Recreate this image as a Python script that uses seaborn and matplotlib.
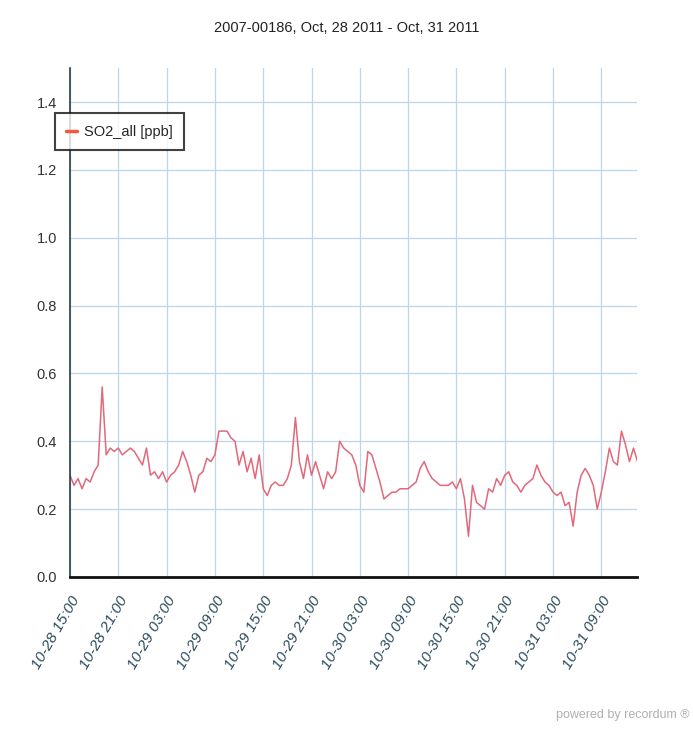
import numpy as np
import pandas as pd
import matplotlib
matplotlib.use("Agg")
import matplotlib.pyplot as plt
import matplotlib.dates as mdates
from matplotlib.ticker import MultipleLocator, FormatStrFormatter
import seaborn as sns

# half-hourly SO2 readings
start_time = "2011-10-28 15:00"
so2_values = [
    0.30, 0.27, 0.29, 0.26, 0.29, 0.28, 0.31, 0.33, 0.56, 0.36,
    0.38, 0.37, 0.38, 0.36, 0.37, 0.38, 0.37, 0.35, 0.33, 0.38,
    0.30, 0.31, 0.29, 0.31, 0.28, 0.30, 0.31, 0.33, 0.37, 0.34,
    0.30, 0.25, 0.30, 0.31, 0.35, 0.34, 0.36, 0.43, 0.43, 0.43,
    0.41, 0.40, 0.33, 0.37, 0.31, 0.35, 0.29, 0.36, 0.26, 0.24,
    0.27, 0.28, 0.27, 0.27, 0.29, 0.33, 0.47, 0.34, 0.29, 0.36,
    0.30, 0.34, 0.30, 0.26, 0.31, 0.29, 0.31, 0.40, 0.38, 0.37,
    0.36, 0.33, 0.27, 0.25, 0.37, 0.36, 0.32, 0.28, 0.23, 0.24,
    0.25, 0.25, 0.26, 0.26, 0.26, 0.27, 0.28, 0.32, 0.34, 0.31,
    0.29, 0.28, 0.27, 0.27, 0.27, 0.28, 0.26, 0.29, 0.23, 0.12,
    0.27, 0.22, 0.21, 0.20, 0.26, 0.25, 0.29, 0.27, 0.30, 0.31,
    0.28, 0.27, 0.25, 0.27, 0.28, 0.29, 0.33, 0.30, 0.28, 0.27,
    0.25, 0.24, 0.25, 0.21, 0.22, 0.15, 0.25, 0.30, 0.32, 0.30,
    0.27, 0.20, 0.25, 0.31, 0.38, 0.34, 0.33, 0.43, 0.39, 0.34,
    0.38, 0.34,
]
series_label = "SO2_all [ppb]"
title = "2007-00186, Oct, 28 2011 - Oct, 31 2011"
credit = "powered by recordum \u00ae"

df = pd.DataFrame({
    "time": pd.date_range(start_time, periods=len(so2_values), freq="30min"),
    "so2": so2_values,
})

sns.set_style("white")
plt.rcParams["font.family"] = ["Liberation Sans", "DejaVu Sans"]

fig = plt.figure(figsize=(6.93, 7.34), dpi=100)
ax = fig.add_axes([0.101, 0.214, 0.818, 0.693])

sns.lineplot(data=df, x="time", y="so2", ax=ax, color="#e2687a", linewidth=1.1,
             label=series_label)

grid_col = "#bcd5e8"
ax.set_ylim(0, 1.5)
ax.set_xlim(pd.Timestamp("2011-10-28 15:00"), pd.Timestamp("2011-10-31 13:25"))
ax.yaxis.set_major_locator(MultipleLocator(0.2))
ax.yaxis.set_minor_locator(MultipleLocator(0.1))
ax.yaxis.set_major_formatter(FormatStrFormatter("%.1f"))
ax.xaxis.set_major_locator(mdates.HourLocator(byhour=[3, 9, 15, 21]))
ax.xaxis.set_minor_locator(mdates.HourLocator())
ax.xaxis.set_major_formatter(mdates.DateFormatter("%m-%d %H:%M"))
ax.grid(True, which="major", color=grid_col, linewidth=0.9)
ax.set_axisbelow(True)

ax.tick_params(axis="y", which="major", direction="inout", length=7, width=1,
               labelsize=10.5, color="#222222", pad=6)
ax.tick_params(axis="x", which="major", direction="in", length=5, width=1,
               labelsize=11, color="#222222", pad=12)
ax.tick_params(axis="both", which="minor", direction="in", length=3, width=0.8,
               color="#222222")
plt.setp(ax.get_xticklabels(), rotation=60, ha="right", rotation_mode="anchor",
         style="italic", color="#2a4a5a")
plt.setp(ax.get_yticklabels(), color="#333333")

for side in ["top", "right"]:
    ax.spines[side].set_visible(False)
ax.spines["left"].set_color("#2c3e44")
ax.spines["left"].set_linewidth(1.2)
ax.spines["bottom"].set_color("#111111")
ax.spines["bottom"].set_linewidth(2)

ax.set_xlabel("")
ax.set_ylabel("")

leg = ax.legend(loc="upper left", bbox_to_anchor=(0.079, 0.846),
                bbox_transform=fig.transFigure, fontsize=10.5, frameon=True,
                fancybox=False, handlelength=0.7, borderpad=0.8,
                handletextpad=0.5, borderaxespad=0)
leg.get_frame().set_edgecolor("#111111")
leg.get_frame().set_linewidth(1.5)
for line in leg.get_lines():
    line.set_color("#f05a3c")
    line.set_linewidth(2.5)

fig.text(0.5, 0.962, title, ha="center", va="center", fontsize=10.5,
         color="#222222")
fig.text(0.995, 0.026, credit, ha="right", va="center", fontsize=9,
         color="#b0b0b0")

fig.savefig("out.png", dpi=100)
